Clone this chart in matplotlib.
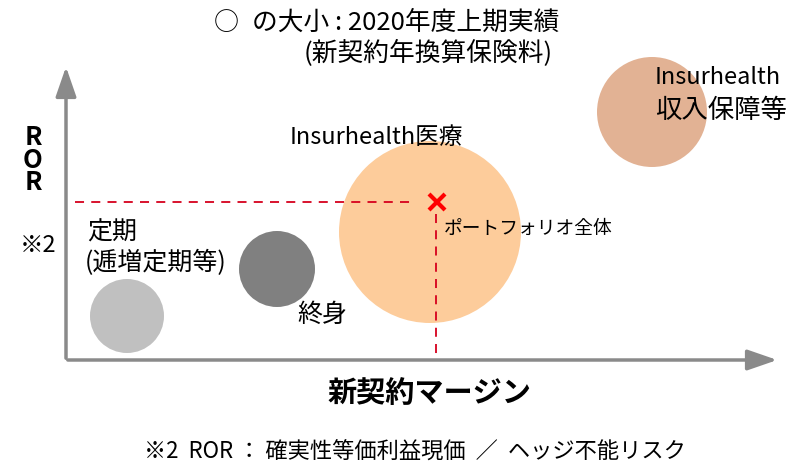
import matplotlib
matplotlib.use("Agg")
import matplotlib.pyplot as plt
from matplotlib.patches import Circle, FancyArrowPatch

plt.rcParams['font.family'] = ['Noto Sans CJK JP', 'DejaVu Sans']

# bubble data (arbitrary units: margin, ROR, size)
names = ['定期\n(逓増定期等)', '終身', 'Insurhealth医療', 'Insurhealth\n収入保障等']
margin = [61, 211, 364, 586]
ror = [44, 91, 128, 248]
size = [37, 38, 91, 55]
colors = ['#c0c0c0', '#808080', '#fdcc9b', '#e2b294']

# portfolio overall
pf_margin, pf_ror = 371, 158

fig = plt.figure(figsize=(8.02, 4.66), dpi=100)
ax = fig.add_axes([0, 0, 1, 1])
ax.set_xlim(-66, 736)
ax.set_ylim(-106, 360)
ax.axis('off')

for x, y, r, c in zip(margin, ror, size, colors):
    ax.add_patch(Circle((x, y), r, color=c, lw=0, zorder=2))

# dashed reference lines
ax.plot([9, pf_margin - 22], [pf_ror, pf_ror], ls=(0, (5, 4)), color='#d6001c', lw=1.3, zorder=3)
ax.plot([pf_margin - 1, pf_margin - 1], [pf_ror - 12, 0], ls=(0, (5, 4)), color='#d6001c', lw=1.3, zorder=3)
ax.plot(pf_margin, pf_ror, marker='x', color='#ff0000', ms=11, mew=3, zorder=4)

# axes with arrows
ax.add_patch(FancyArrowPatch((-1, 0), (714, 0), arrowstyle='-|>,head_length=1.3,head_width=0.45',
                             mutation_scale=14, color='#8a8a8a', lw=2.5, zorder=1))
ax.add_patch(FancyArrowPatch((0, -1), (0, 296), arrowstyle='-|>,head_length=1.3,head_width=0.45',
                             mutation_scale=14, color='#8a8a8a', lw=2.5, zorder=1))

# bubble labels
ax.text(21, 360 - 233, '定期', fontsize=18, ha='left', va='center')
ax.text(19, 360 - 263, '(逓増定期等)', fontsize=18, ha='left', va='center')
ax.text(231, 360 - 315, '終身', fontsize=18, ha='left', va='center')
ax.text(224, 360 - 138, 'Insurhealth医療', fontsize=17, ha='left', va='center')
ax.text(378, 360 - 228, 'ポートフォリオ全体', fontsize=13.5, ha='left', va='center')
ax.text(589, 360 - 77, 'Insurhealth', fontsize=17, ha='left', va='center')
ax.text(589, 360 - 110, '収入保障等', fontsize=19, ha='left', va='center')

# bubble size note
ax.text(226 - 66, 360 - 23, '○', fontsize=18, ha='center', va='center')
ax.text(252 - 66, 360 - 23, 'の大小 : 2020年度上期実績', fontsize=18.5, ha='left', va='center')
ax.text(428 - 66, 360 - 53, '(新契約年換算保険料)', fontsize=18.5, ha='center', va='center')

# axis labels
ax.text(33 - 66, 360 - 160, 'R\nO\nR', fontsize=18.5, fontweight='bold', ha='center', va='center',
        linespacing=0.8)
ax.text(38 - 66, 360 - 245, '※2', fontsize=17, ha='center', va='center')
ax.text(429 - 66, 360 - 393, '新契約マージン', fontsize=21, fontweight='bold', ha='center', va='center')
ax.text(415 - 66, 360 - 452, '※2  ROR ： 確実性等価利益現価  ／  ヘッジ不能リスク', fontsize=16,
        ha='center', va='center')

fig.savefig('out.png', dpi=100)
